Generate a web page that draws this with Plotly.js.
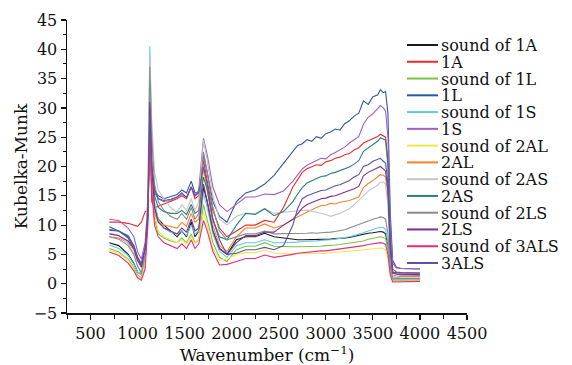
<!DOCTYPE html>
<html>
<head>
<meta charset="utf-8">
<script src="https://cdn.plot.ly/plotly-3.0.1.min.js"></script>
<style>html,body{margin:0;padding:0;background:#fff;}#chart{width:572px;height:365px;}</style>
</head>
<body>
<div id="chart"></div>
<script>
// Wavenumber (cm^-1)
const wavenumber = [700, 800, 900, 960, 1000, 1040, 1080, 1110, 1130, 1150, 1180, 1220, 1280, 1350, 1420, 1470, 1520, 1570, 1610, 1650, 1700, 1740, 1800, 1870, 1950, 2050, 2150, 2250, 2350, 2450, 2550, 2650,
  2700, 2750, 2800, 2850, 2900, 2950, 3000, 3050, 3100, 3150, 3200, 3250, 3300, 3350, 3400, 3450, 3500, 3550, 3580, 3610, 3635, 3660, 3685, 3710, 3750, 3800, 4000];

const seriesNames = ["sound of 1A", "1A", "sound of 1L", "1L", "sound of 1S", "1S", "sound of 2AL", "2AL", "sound of 2AS", "2AS", "sound of 2LS", "2LS", "sound of 3ALS", "3ALS"];
const seriesColors = ["#1a1a1a", "#ee2b2b", "#7cc242", "#2e55a8", "#62cbe0", "#a25fc0", "#ece94a", "#f5842a", "#c4c4c4", "#2a807a", "#8a8a8a", "#7b2f8f", "#ec2a7c", "#5b52aa"];

const sound1A = [7.0, 6.5, 5.0, 3.5, 2.0, 1.5, 4.0, 12, 31, 20, 13, 11, 10, 9, 8, 9, 8, 10.5, 8, 9, 16.5, 14, 9, 6, 5, 7.5, 8, 8, 8.6, 8, 7.8, 7.5,
  7.5, 7.5, 7.5, 7.5, 7.5, 7.6, 7.6, 7.6, 7.7, 7.7, 7.8, 7.9, 8.1, 8.2, 8.4, 8.6, 8.7, 8.8, 8.9, 8.8, 8.5, 6.5, 2.3, 0.8, 0.8, 0.8, 0.8];
const s1A = [10.5, 10.5, 10.3, 10, 9.8, 10.5, 12.3, 12.5, 25, 14, 13, 13.2, 13.6, 14, 14.5, 15, 14.5, 16.5, 14.5, 15, 21, 17.5, 12.5, 9.5, 8, 9, 10, 10, 10.8, 10.5, 13, 16.5,
  17.8, 19.0, 19.6, 19.9, 20.3, 20.2, 20.8, 21.0, 21.4, 21.6, 22.0, 22.2, 22.8, 23.2, 24.0, 24.4, 24.7, 25.1, 25.5, 25.2, 25.0, 21, 8, 2.5, 2.0, 1.9, 1.8];
const sound1L = [6.0, 5.4, 4.2, 2.8, 1.5, 1.0, 3.5, 12, 30, 18, 11, 8.5, 7.8, 7.3, 7, 7.8, 7, 8.5, 7, 7.5, 13.5, 11, 7, 4.5, 3.8, 5.8, 6.4, 6.4, 7, 6.4, 6.3, 6.3,
  6.3, 6.3, 6.3, 6.4, 6.4, 6.4, 6.5, 6.5, 6.6, 6.7, 6.8, 6.9, 7.0, 7.1, 7.3, 7.6, 7.8, 7.9, 8.0, 7.9, 7.7, 5.8, 2, 0.5, 0.5, 0.5, 0.6];
const s1L = [9.7, 9.0, 7.8, 6.0, 4.0, 3.2, 6, 12, 27, 20, 16, 15, 14.5, 14.8, 15.2, 16, 15.5, 17.5, 15.5, 15.5, 22, 19, 14, 11.5, 10.5, 14, 15.5, 16, 17, 18.5, 20.5, 22.5,
  23.6, 23.9, 24.6, 24.3, 25.1, 24.8, 25.6, 25.9, 26.4, 26.2, 27.3, 27.8, 28.6, 29.1, 31.2, 30.6, 31.9, 32.2, 33.1, 32.6, 32.8, 29, 12, 4, 2.8, 2.6, 2.5];
const sound1S = [6.6, 6.0, 4.8, 3.3, 2.0, 1.5, 4, 16, 40.5, 25, 14, 11, 9.5, 8.8, 8.5, 9, 8.2, 10, 8.5, 9, 15.5, 13, 8.5, 5.5, 4.5, 6.5, 7, 7, 7.5, 7, 7, 7,
  7.1, 7.2, 7.2, 7.3, 7.3, 7.4, 7.4, 7.5, 7.6, 7.7, 7.8, 8.0, 8.2, 8.4, 8.7, 9.0, 9.3, 9.5, 9.6, 9.6, 9.3, 7, 2.3, 0.8, 0.7, 0.7, 0.7];
const s1S = [11, 10.8, 9.5, 8, 5.5, 4.2, 7, 14, 28, 19, 15.5, 14.5, 14, 14.2, 14.8, 15.2, 14.8, 16.5, 15, 16, 24.8, 22, 16.5, 13.5, 12.3, 13.5, 14.8, 14.8, 15.3, 15.2, 15.8, 17.5,
  18.5, 19.6, 20.2, 20.6, 20.9, 21.4, 21.3, 22.0, 22.4, 22.9, 23.3, 24.0, 24.6, 25.1, 27.2, 28.4, 29.0, 29.8, 30.4, 30.0, 29.5, 25, 10, 3.5, 2.7, 2.6, 2.5];
const sound2AL = [5.7, 5.2, 4.0, 2.5, 1.3, 0.8, 3.5, 13, 34, 20, 12, 9, 8, 7.5, 7, 7.5, 6.8, 8, 6.8, 7.5, 12.2, 10, 6, 4, 4.2, 5, 5.3, 5.3, 5.8, 5.2, 5.1, 5.1,
  5.1, 5.1, 5.1, 5.1, 5.2, 5.2, 5.2, 5.3, 5.3, 5.4, 5.5, 5.5, 5.6, 5.7, 5.8, 5.9, 6.0, 6.0, 6.1, 6.0, 5.8, 4.3, 1.5, 0.4, 0.4, 0.4, 0.5];
const s2AL = [8.0, 7.8, 7.0, 5.8, 4.0, 3.0, 5.5, 11, 26, 18, 12, 10.5, 10, 9.8, 9.5, 10.5, 9.8, 12, 10.5, 11, 19.8, 16, 10, 6.5, 5.5, 8, 9.5, 9.5, 10.2, 9.5, 10, 11,
  11.4, 11.9, 12.3, 12.7, 13.0, 13.3, 13.4, 13.7, 13.6, 13.9, 14.0, 14.2, 14.5, 14.8, 16.4, 17.1, 17.6, 18.2, 18.6, 18.5, 18.2, 15, 5, 1.5, 1.3, 1.2, 1.2];
const sound2AS = [8.6, 8.3, 6.8, 5.0, 3.0, 2.0, 5, 15, 39, 28, 19, 16, 14.5, 13, 12.2, 13.5, 12.5, 14.5, 12.5, 14, 24.5, 21, 15, 11, 10, 11.5, 12, 12, 12.8, 12, 12.2, 12.3,
  12.4, 12.5, 12.6, 12.4, 12.3, 12.1, 11.8, 11.5, 11.7, 12.0, 12.4, 12.8, 13.5, 14.2, 15.0, 15.8, 16.3, 16.8, 17.3, 17.4, 17.0, 13, 4.5, 1.3, 1.1, 1.0, 1.0];
const s2AS = [9.1, 9.0, 8.2, 6.5, 4.5, 3.0, 6, 12, 30, 20, 15, 13, 12.3, 12, 12, 12.5, 11.8, 13.5, 12, 12.5, 18.2, 16, 11, 8, 7.5, 10, 12, 11.8, 12.8, 11.6, 12.3, 14,
  15.3, 16.4, 17.2, 17.6, 18.0, 18.3, 18.4, 18.8, 19.0, 19.3, 19.5, 19.9, 20.4, 21.0, 22.6, 23.2, 23.7, 24.3, 24.9, 24.7, 24.5, 20, 7, 2, 1.7, 1.6, 1.5];
const sound2LS = [8.0, 7.6, 6.5, 5.0, 3.0, 1.8, 5, 14, 37, 25, 17, 14, 12.5, 11.5, 11, 12, 11, 13, 11, 12, 22.5, 19, 13, 9, 7.5, 8, 8.5, 8.5, 9, 8.5, 8.5, 8.6,
  8.6, 8.6, 8.6, 8.7, 8.6, 8.7, 8.7, 8.8, 8.9, 9.0, 9.2, 9.5, 9.8, 10.1, 10.5, 10.8, 11.0, 11.2, 11.4, 11.3, 11.0, 8.5, 3, 1.0, 0.9, 0.9, 0.9];
const s2LS = [8.5, 8.2, 7.3, 6.0, 4.0, 2.8, 6, 12, 31, 20, 13, 10.5, 9.5, 9, 8.5, 9.5, 8.8, 11, 9, 9.5, 17, 14, 9, 6, 5, 7, 8.2, 8.2, 8.8, 8.8, 10, 11,
  12.0, 12.9, 13.5, 13.8, 14.2, 14.5, 14.6, 14.9, 15.0, 15.3, 15.5, 15.8, 16.2, 16.6, 18.4, 19.0, 19.4, 19.7, 20.0, 19.6, 19.2, 16, 5.5, 1.8, 1.6, 1.5, 1.5];
const sound3ALS = [5.4, 4.8, 3.5, 2.2, 1.0, 0.6, 2.5, 10, 28, 16, 10, 8, 7, 6.5, 6, 6.8, 6, 7.5, 6, 6.8, 10.8, 9, 5.5, 3.2, 3.3, 3.8, 4.3, 4.3, 4.9, 4.5, 4.7, 5,
  5.2, 5.3, 5.4, 5.4, 5.5, 5.6, 5.6, 5.7, 5.8, 5.9, 6.0, 6.1, 6.2, 6.3, 6.5, 6.7, 6.8, 6.9, 7.0, 6.9, 6.7, 5, 1.5, 0.3, 0.3, 0.3, 0.4];
const s3ALS = [9.3, 9.0, 8.0, 6.5, 4.5, 3.5, 6, 12, 29, 20, 16, 14.5, 14.2, 14.4, 14.8, 15.5, 14.7, 16.5, 15, 15.5, 20, 17, 11, 7.5, 5, 5.2, 5.8, 5.8, 6.2, 5.8, 6.5, 10,
  12.8, 14.5, 15.0, 15.3, 15.6, 15.9, 16.0, 16.4, 16.7, 16.9, 17.2, 17.6, 18.2, 18.6, 20.0, 20.3, 20.9, 21.2, 21.4, 20.9, 20.6, 17, 6, 2, 1.9, 1.8, 1.8];

const seriesValues = [sound1A, s1A, sound1L, s1L, sound1S, s1S, sound2AL, s2AL, sound2AS, s2AS, sound2LS, s2LS, sound3ALS, s3ALS];

const FONT = "DejaVu Serif";
const W = 572, H = 365;
const M = {l: 67, r: 105, t: 20, b: 52};

const traces = seriesValues.map((ys, i) => ({
  x: wavenumber, y: ys, type: "scatter", mode: "lines",
  name: seriesNames[i], showlegend: false,
  line: {color: seriesColors[i], width: 1.1}
}));

// Custom legend overlaid at the top right of the plot (tight row spacing as in the original)
const plotW = W - M.l - M.r, plotH = H - M.t - M.b;
const pxX = px => (px - M.l) / plotW;
const pxY = py => (H - M.b - py) / plotH;
const legX0 = 407, legLine = 31, legTextX = 440, legY0 = 45, legStep = 16.77;
const shapes = [], annotations = [];
seriesNames.forEach((nm, i) => {
  const py = legY0 + i * legStep;
  shapes.push({type: "line", xref: "paper", yref: "paper",
    x0: pxX(legX0), x1: pxX(legX0 + legLine), y0: pxY(py), y1: pxY(py),
    line: {color: seriesColors[i], width: 2}});
  annotations.push({xref: "paper", yref: "paper", x: pxX(legTextX), y: pxY(py),
    xanchor: "left", yanchor: "middle", showarrow: false, text: nm, height: 16,
    font: {family: FONT, size: 16, color: "#111"}, borderpad: 0});
});

const layout = {
  width: W, height: H, margin: M,
  paper_bgcolor: "#fff", plot_bgcolor: "#fff",
  font: {family: FONT, size: 16, color: "#111"},
  showlegend: false,
  xaxis: {
    range: [250, 4500], tick0: 500, dtick: 500, ticks: "outside", ticklen: 5, tickwidth: 1.2,
    tickcolor: "#111", showline: true, linecolor: "#111", linewidth: 1.5,
    showgrid: false, zeroline: false,
    minor: {dtick: 250, tick0: 250, ticks: "outside", ticklen: 4, tickwidth: 1, tickcolor: "#111", showgrid: false},
    tickfont: {family: FONT, size: 16, color: "#111"},
    title: {text: "Wavenumber (cm<sup>−1</sup>)", font: {family: FONT, size: 17, color: "#111"}, standoff: 4}
  },
  yaxis: {
    range: [-5, 45], tick0: 0, dtick: 5, ticks: "outside", ticklen: 5, tickwidth: 1.2,
    tickcolor: "#111", showline: true, linecolor: "#111", linewidth: 1.5,
    showgrid: false, zeroline: false,
    minor: {dtick: 2.5, ticks: "outside", ticklen: 3, tickwidth: 1, tickcolor: "#111", showgrid: false},
    tickfont: {family: FONT, size: 16, color: "#111"},
    tickformat: "d",
    title: {text: "Kubelka-Munk", font: {family: FONT, size: 17, color: "#111"}, standoff: 2}
  },
  shapes: shapes, annotations: annotations
};

Plotly.newPlot("chart", traces, layout, {staticPlot: true, displayModeBar: false});
</script>
</body>
</html>
